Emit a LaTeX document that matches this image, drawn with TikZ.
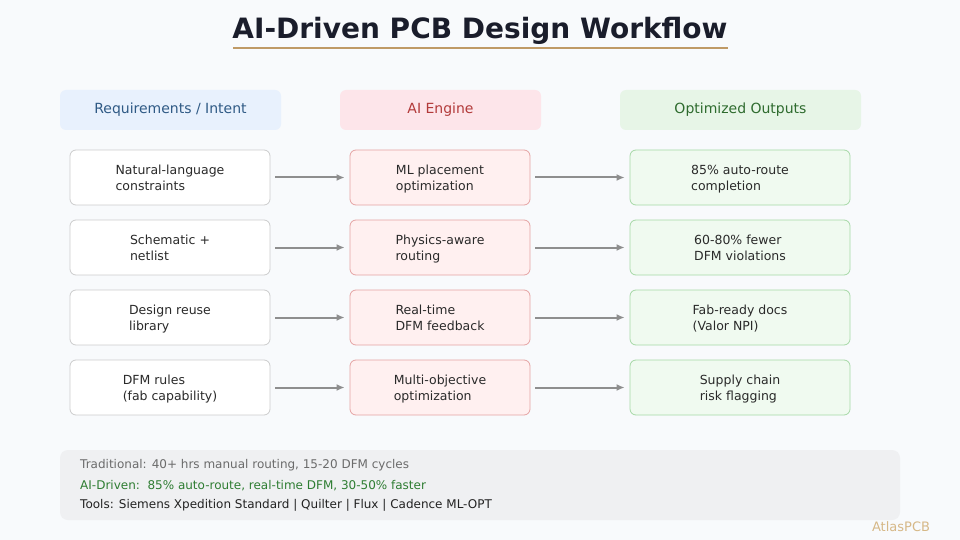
\documentclass[tikz,border=0pt]{standalone}
\usepackage{fontspec}
\setmainfont{DejaVu Sans}
\usetikzlibrary{arrows.meta}
\definecolor{bg}{HTML}{F8FAFC}
\definecolor{titlec}{HTML}{1A1D2B}
\definecolor{gold}{HTML}{BF9A66}
\definecolor{hAfill}{HTML}{E8F1FD}
\definecolor{hAtext}{HTML}{2F5A85}
\definecolor{hBfill}{HTML}{FDE5EA}
\definecolor{hBtext}{HTML}{B23A3A}
\definecolor{hCfill}{HTML}{E7F5E7}
\definecolor{hCtext}{HTML}{2E6B2E}
\definecolor{lborder}{HTML}{CCCCCC}
\definecolor{mfill}{HTML}{FFF0F0}
\definecolor{mborder}{HTML}{E5A3A3}
\definecolor{rfill}{HTML}{F0FAF0}
\definecolor{rborder}{HTML}{A6D8A6}
\definecolor{arrowc}{HTML}{8E8E8E}
\definecolor{panel}{HTML}{EFF0F2}
\definecolor{tradc}{HTML}{6B6B6B}
\definecolor{aic}{HTML}{2E7D32}
\definecolor{toolc}{HTML}{222222}
\definecolor{boxtext}{HTML}{2A2A2A}
\definecolor{brand}{HTML}{D6B887}
\newcommand{\twol}[2]{\rule{0pt}{15.2pt}#1\\#2\strut}
\tikzset{
  hdr/.style={rounded corners=6pt, minimum width=#1, minimum height=40pt, inner sep=0pt,
    font=\fontsize{14}{16}\selectfont},
  rowbox/.style={rounded corners=6pt, minimum height=55pt, inner sep=0pt, line width=0.8pt,
    font=\fontsize{12.5}{16}\selectfont, align=left, text=boxtext},
  lbox/.style={rowbox, minimum width=200pt, draw=lborder, fill=white},
  mbox/.style={rowbox, minimum width=180pt, draw=mborder, fill=mfill},
  rbox/.style={rowbox, minimum width=220pt, draw=rborder, fill=rfill},
  flow/.style={draw=arrowc, line width=2pt, -{Latex[length=8pt,width=7pt]}, shorten <=5pt, shorten >=5pt},
  foot/.style={anchor=west, font=\fontsize{12}{14}\selectfont, inner sep=0pt}
}
\begin{document}
\begin{tikzpicture}[x=1pt,y=-1pt]
\fill[bg] (0,0) rectangle (960,540);
\useasboundingbox (0,0) rectangle (960,540);
% title
\node[font=\fontsize{28}{30}\selectfont\bfseries, text=titlec, inner sep=0pt] (title) at (480,31) {AI-Driven PCB Design Workflow};
\draw[gold, line width=2pt] (233,48) -- (728,48);
% headers
\node[hdr=221pt, fill=hAfill, text=hAtext] (hA) at (170.5,110) {Requirements / Intent};
\node[hdr=201pt, fill=hBfill, text=hBtext] (hB) at (440.5,110) {AI Engine};
\node[hdr=241pt, fill=hCfill, text=hCtext] (hC) at (740.5,110) {Optimized Outputs};
% rows
\node[lbox] (l1) at (170,177.5) {\twol{Natural-language}{constraints}};
\node[lbox] (l2) at (170,247.5) {\twol{Schematic +}{netlist}};
\node[lbox] (l3) at (170,317.5) {\twol{Design reuse}{library}};
\node[lbox] (l4) at (170,387.5) {\twol{DFM rules}{(fab capability)}};
\node[mbox] (m1) at (440,177.5) {\twol{ML placement}{optimization}};
\node[mbox] (m2) at (440,247.5) {\twol{Physics-aware}{routing}};
\node[mbox] (m3) at (440,317.5) {\twol{Real-time}{DFM feedback}};
\node[mbox] (m4) at (440,387.5) {\twol{Multi-objective}{optimization}};
\node[rbox] (r1) at (740,177.5) {\twol{85\% auto-route}{completion}};
\node[rbox] (r2) at (740,247.5) {\twol{60-80\% fewer}{DFM violations}};
\node[rbox] (r3) at (740,317.5) {\twol{Fab-ready docs}{(Valor NPI)}};
\node[rbox] (r4) at (740,387.5) {\twol{Supply chain}{risk flagging}};
\foreach \i in {1,2,3,4}{
  \draw[flow] (l\i.east) -- (m\i.west);
  \draw[flow] (m\i.east) -- (r\i.west);
}
% bottom panel
\node[fill=panel, rounded corners=8pt, minimum width=840pt, minimum height=70pt, inner sep=0pt] (panel) at (480,485) {};
\node[foot, text=tradc] (t1) at (80,465.5) {Traditional: 40+ hrs manual routing, 15-20 DFM cycles};
\node[foot, text=aic] (t2) at (80,485.5) {AI-Driven:\ \ 85\% auto-route, real-time DFM, 30-50\% faster};
\node[foot, text=toolc] (t3) at (80,505.5) {Tools: Siemens Xpedition Standard | Quilter | Flux | Cadence ML-OPT};
\node[font=\fontsize{13}{15}\selectfont, text=brand, inner sep=0pt] (brand) at (901,527) {AtlasPCB};
\end{tikzpicture}
\end{document}
